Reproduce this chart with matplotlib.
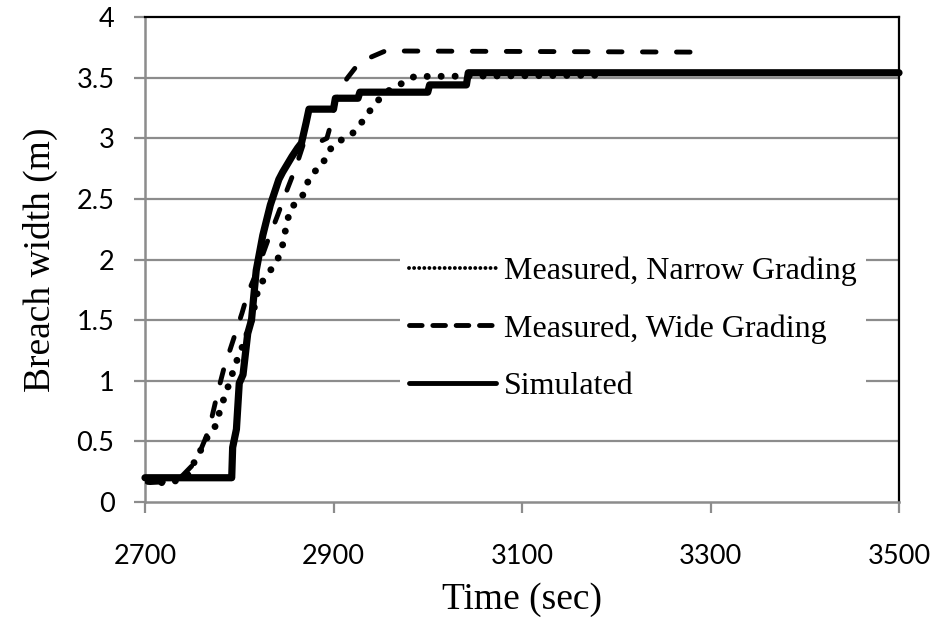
import matplotlib
matplotlib.use("Agg")
import matplotlib.pyplot as plt
from matplotlib.lines import Line2D

# ---- data ----
sim_t = [2700, 2792, 2793, 2797, 2800, 2804, 2809, 2813, 2818, 2825, 2833, 2842, 2846,
         2856, 2862, 2866, 2871, 2874, 2900, 2902, 2926, 2928, 3000, 3002, 3041, 3043, 3500]
sim_w = [0.20, 0.20, 0.45, 0.60, 0.98, 1.05, 1.39, 1.50, 1.91, 2.20, 2.45, 2.66, 2.72,
         2.85, 2.92, 2.96, 3.13, 3.24, 3.24, 3.33, 3.33, 3.38, 3.38, 3.44, 3.44, 3.54, 3.54]

narrow_t = [2703, 2713, 2728, 2737, 2747, 2751, 2758, 2765, 2775, 2779, 2784, 2789, 2794,
            2799, 2807, 2814, 2819, 2823, 2829, 2839, 2845, 2848, 2851, 2855, 2866, 2871,
            2877, 2888, 2893, 2904, 2918, 2928, 2937, 2947, 2958, 2972, 2986, 3000, 3180]
narrow_w = [0.17, 0.16, 0.16, 0.19, 0.23, 0.31, 0.41, 0.52, 0.63, 0.74, 0.86, 0.97, 1.09,
            1.20, 1.35, 1.53, 1.72, 1.80, 1.87, 1.97, 2.08, 2.20, 2.32, 2.43, 2.50, 2.61,
            2.71, 2.77, 2.88, 2.97, 3.02, 3.11, 3.21, 3.31, 3.39, 3.45, 3.51, 3.51, 3.52]

wide_t = [2705, 2730, 2740, 2750, 2758, 2765, 2771, 2777, 2786, 2790, 2798, 2803, 2809,
          2816, 2823, 2830, 2840, 2850, 2860, 2868, 2885, 2893, 2897, 2902, 2908, 2915,
          2925, 2940, 2955, 3295]
wide_w = [0.16, 0.17, 0.22, 0.30, 0.41, 0.54, 0.70, 0.90, 1.17, 1.25, 1.44, 1.56, 1.72,
          1.85, 2.00, 2.15, 2.35, 2.56, 2.76, 2.95, 2.97, 3.00, 3.11, 3.30, 3.42, 3.50,
          3.60, 3.67, 3.72, 3.71]

x_ticks = [2700, 2900, 3100, 3300, 3500]
y_ticks = [0, 0.5, 1, 1.5, 2, 2.5, 3, 3.5, 4]
y_ticklabels = ["0", "0.5", "1", "1.5", "2", "2.5", "3", "3.5", "4"]

labels = ["Measured, Narrow Grading", "Measured, Wide Grading", "Simulated"]

# ---- figure ----
fig = plt.figure(figsize=(9.41, 6.28), dpi=100)
ax = fig.add_axes([145 / 941, 1 - 502 / 628, (899 - 145) / 941, (502 - 17) / 628])

grid_c = "#8c8c8c"
for y in y_ticks[1:-1]:
    ax.axhline(y, color=grid_c, lw=1.6, zorder=1)

ax.plot(narrow_t, narrow_w, color="black", lw=5.0, linestyle=(0, (0.01, 2.0)),
        dash_capstyle="round", zorder=3)
ax.plot(wide_t, wide_w, color="black", lw=3.5, linestyle=(0, (2.8, 4.2)),
        dash_capstyle="round", zorder=4)
ax.plot(sim_t, sim_w, color="black", lw=5.2, solid_capstyle="round",
        solid_joinstyle="round", zorder=5, clip_on=False)

ax.set_xlim(2700, 3500)
ax.set_ylim(0, 4)
ax.set_xticks(x_ticks)
ax.set_yticks(y_ticks)
ax.set_yticklabels(y_ticklabels)

for s in ["left", "bottom"]:
    ax.spines[s].set_color(grid_c)
    ax.spines[s].set_linewidth(1.8)
for s in ["top", "right"]:
    ax.spines[s].set_color("black")
    ax.spines[s].set_linewidth(1.6)

ax.tick_params(axis="both", direction="out", length=8, width=1.6, color=grid_c,
               labelsize=19.5)
ax.tick_params(axis="y", pad=14)
ax.tick_params(axis="x", pad=22)
for lab in ax.get_xticklabels() + ax.get_yticklabels():
    lab.set_fontfamily("Lato")

serif = "Liberation Serif"
ax.set_xlabel("Time (sec)", fontsize=27, fontfamily=serif, labelpad=10)
ax.set_ylabel("Breach width (m)", fontsize=27, fontfamily=serif, labelpad=13)

handles = [
    Line2D([], [], color="black", lw=2.8, linestyle=(0, (0.01, 1.3)), dash_capstyle="round"),
    Line2D([], [], color="black", lw=3.5, linestyle=(0, (2.6, 2.2)), dash_capstyle="round"),
    Line2D([], [], color="black", lw=3.5, solid_capstyle="round"),
]
leg = ax.legend(handles, labels, loc="center left", bbox_to_anchor=(0.338, 0.357),
                frameon=True, fancybox=False, facecolor="white", edgecolor="none",
                framealpha=1, prop={"family": serif, "size": 23}, handlelength=2.7,
                handletextpad=0.25, labelspacing=0.87, borderpad=0.3, borderaxespad=0)
leg.set_zorder(6)

fig.savefig("out.png", dpi=100)
